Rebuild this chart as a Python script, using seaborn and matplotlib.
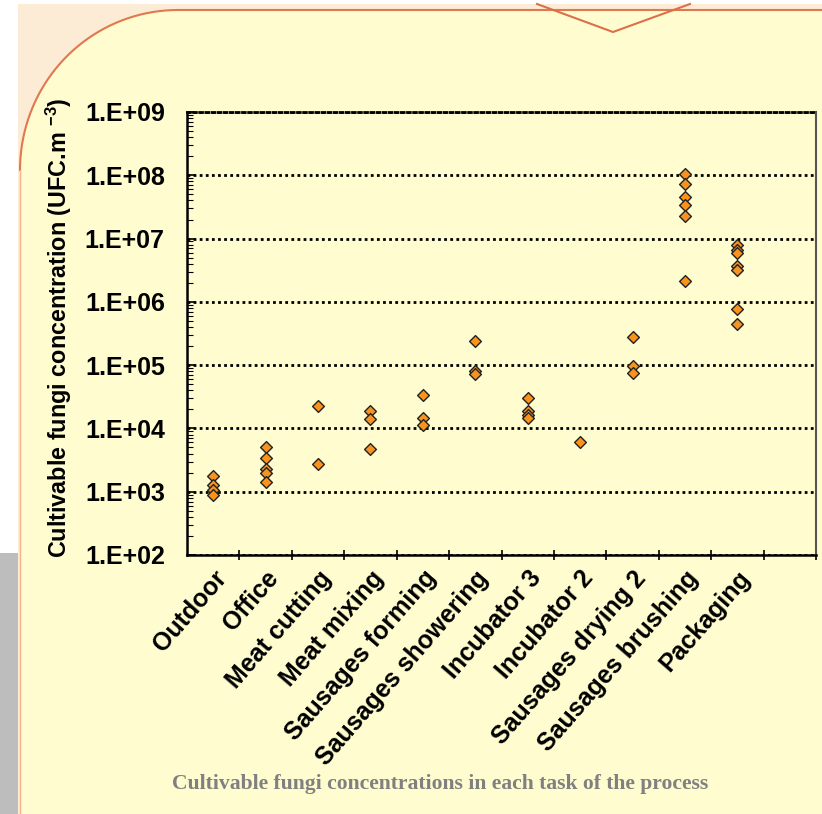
"""
Concentracao de fungos cultivaveis em cada tarefa do processo
"""

import numpy as np
import pandas as pd
import matplotlib
matplotlib.use('Agg')
import matplotlib.pyplot as plt
import matplotlib.patches as mpatches
import matplotlib.ticker as mticker
import matplotlib.transforms as mtrans
import seaborn as sns

# Dados (UFC.m-3)
tarefas = ['Outdoor', 'Office', 'Meat cutting', 'Meat mixing', 'Sausages forming',
           'Sausages showering', 'Incubator 3', 'Incubator 2', 'Sausages drying 2',
           'Sausages brushing', 'Packaging']

outdoor = [1800, 1300, 1050, 900]
office = [5000, 3400, 2250, 2000, 1400]
meat_cutting = [22500, 2700]
meat_mixing = [19000, 13900, 4700]
sausages_forming = [33600, 14700, 11300]
sausages_showering = [245000, 81000, 72000]
incubator_3 = [29800, 19000, 16200, 14700]
incubator_2 = [6000]
sausages_drying_2 = [274000, 98000, 74000]
sausages_brushing = [1.06e8, 7.4e7, 4.5e7, 3.4e7, 2.3e7, 2.1e6]
packaging = [7.9e6, 6.6e6, 6.0e6, 3.7e6, 3.2e6, 7.7e5, 4.4e5]

valores = [outdoor, office, meat_cutting, meat_mixing, sausages_forming,
           sausages_showering, incubator_3, incubator_2, sausages_drying_2,
           sausages_brushing, packaging]

df = pd.concat([pd.DataFrame({'tarefa': t, 'ufc': v}) for t, v in zip(tarefas, valores)],
               ignore_index=True)

plt.rcParams['font.family'] = ['Liberation Sans', 'DejaVu Sans']
plt.rcParams['mathtext.fontset'] = 'custom'
plt.rcParams['mathtext.bf'] = 'Liberation Sans:bold'

fig = plt.figure(figsize=(8.22, 8.14), dpi=100)

# Fundo do slide (painel amarelo com canto arredondado)
bg = fig.add_axes([0, 0, 1, 1], zorder=-10)
bg.set_xlim(0, 822)
bg.set_ylim(814, 0)
bg.axis('off')
bg.add_patch(mpatches.Rectangle((18, 4), 804, 810, color='#FCEBD5', lw=0))
bg.add_patch(mpatches.Rectangle((0, 553), 18, 261, color='#BDBDBD', lw=0))
ang = np.linspace(np.pi, np.pi / 2, 40)
arco_x = 178 + 158 * np.cos(ang)
arco_y = 170 - 160 * np.sin(ang)
px = np.concatenate([[20], arco_x, [822, 822]])
py = np.concatenate([[814], arco_y, [10, 814]])
bg.fill(px, py, color='#FFFDCF', lw=0)
bg.plot(np.concatenate([arco_x, [822]]), np.concatenate([arco_y, [10]]), color='#E07850', lw=1.5)
bg.plot([19.5, 19.5], [170, 814], color='#F4B48F', lw=1)
bg.plot([537, 613, 690], [4, 32, 4], color='#DB7049', lw=1.5)

# Grafico
ax = fig.add_axes([187 / 822, 1 - 555 / 814, 629 / 822, 443 / 814])
ax.set_facecolor('none')
ax.set_yscale('log')

sns.stripplot(
    data=df,
    x='tarefa',
    y='ufc',
    order=tarefas,
    jitter=False,
    marker='D',
    size=6,
    color='#F7931E',
    edgecolor='#222222',
    linewidth=1,
    ax=ax,
    zorder=3
)

ax.set_xlim(-0.5, 11.5)
ax.set_ylim(1e2, 1e9)

# eixo y
ax.yaxis.set_major_locator(mticker.LogLocator(base=10, numticks=20))
ax.yaxis.set_minor_locator(mticker.LogLocator(base=10, subs=range(2, 10), numticks=20))
ax.yaxis.set_major_formatter(mticker.FuncFormatter(lambda v, p: f'1.E+{int(round(np.log10(v))):02d}'))
ax.yaxis.set_minor_formatter(mticker.NullFormatter())
ax.tick_params(axis='y', which='major', direction='in', length=6, width=1.2, pad=16,
               labelsize=18)
ax.tick_params(axis='y', which='minor', direction='in', length=4, width=0.8)
for lbl in ax.get_yticklabels():
    lbl.set_fontweight('bold')

# eixo x
ax.set_xticks(range(len(tarefas)))
ax.set_xticklabels(tarefas, rotation=49, ha='right', va='top', rotation_mode='anchor',
                   fontsize=18, fontweight='bold')
desloc = mtrans.ScaledTranslation(8 / 100, 0, fig.dpi_scale_trans)
for lbl in ax.get_xticklabels():
    lbl.set_transform(lbl.get_transform() + desloc)
ax.set_xticks(np.arange(0.5, 12, 1), minor=True)
ax.tick_params(axis='x', which='major', length=0, pad=8)
ax.tick_params(axis='x', which='minor', direction='inout', length=7, width=1.2)
ax.set_xlabel('')

ax.set_ylabel(r'Cultivable fungi concentration (UFC.m $^{\mathbf{-3}}$)',
              fontsize=16.8, fontweight='bold')
ax.yaxis.set_label_coords(-0.18, 0.512)

ax.set_axisbelow(True)
ax.yaxis.grid(True, which='major', color='black', linestyle=(0, (1, 1.2)), linewidth=2)

ax.spines['left'].set_linewidth(1.8)
ax.spines['bottom'].set_linewidth(1.8)
ax.spines['right'].set_color('#555555')
ax.spines['right'].set_linewidth(1.5)
ax.spines['top'].set_linestyle((0, (1, 1.2)))
ax.spines['top'].set_linewidth(2)

fig.text(440 / 822, 1 - 784 / 814, 'Cultivable fungi concentrations in each task of the process',
         family=['Liberation Serif', 'DejaVu Serif'], fontweight='bold', color='#808080',
         fontsize=15.6, ha='center', va='center')

fig.savefig('out.png', dpi=100)
